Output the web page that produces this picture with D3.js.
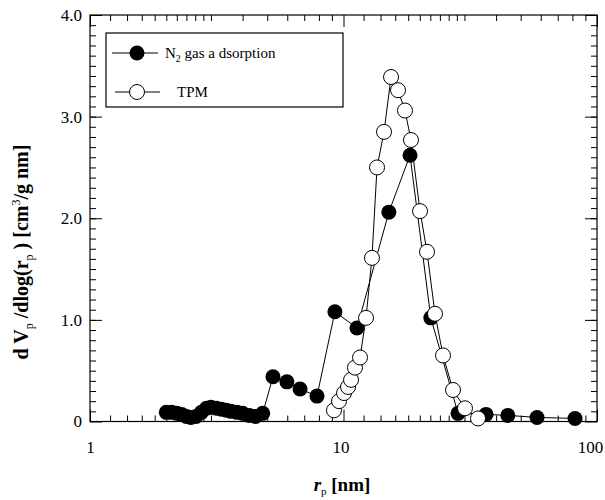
<!DOCTYPE html>
<html>
<head>
<meta charset="utf-8">
<script src="https://cdn.jsdelivr.net/npm/d3@7"></script>
<style>
body { margin: 0; background: #fff; }
text { font-family: "Liberation Serif", "Times New Roman", serif; }
</style>
</head>
<body>
<svg id="chart" width="605" height="500"></svg>
<script>
// tick values / labels
var xMajor = [1, 10, 100];
var xMajorLabels = ["1", "10", "100"];
var xMinor = [1.2, 1.4, 1.6, 1.8, 2, 2.2, 2.4, 2.6, 2.8, 3, 4, 5, 6, 7, 8, 9,
              12, 14, 16, 18, 20, 22, 24, 26, 28, 30, 40, 50, 60, 70, 80, 90];
var yMajor = [0, 1, 2, 3, 4];
var yMajorLabels = ["0", "1.0", "2.0", "3.0", "4.0"];
var yMinor = d3.range(1, 40).map(function(i) { return i / 10; });

// N2 gas adsorption (filled)
var n2Radius = [2.0, 2.1, 2.2, 2.3, 2.4, 2.5, 2.62, 2.75, 2.88, 3.0, 3.15, 3.3, 3.45, 3.6, 3.8, 4.0, 4.25, 4.5, 4.8,
                5.27, 5.98, 6.74, 7.86, 9.25, 11.3, 15.1, 18.3, 22.1, 28.3, 36.5, 44.5, 58.0, 81.9];
var n2Value  = [0.09, 0.09, 0.08, 0.07, 0.05, 0.04, 0.05, 0.09, 0.13, 0.14, 0.13, 0.12, 0.11, 0.10, 0.09, 0.08, 0.06, 0.05, 0.08,
                0.44, 0.39, 0.32, 0.25, 1.08, 0.92, 2.06, 2.62, 1.02, 0.08, 0.07, 0.06, 0.04, 0.03];

// TPM (open)
var tpmRadius = [9.17, 9.60, 10.05, 10.42, 10.71, 11.10, 11.62, 12.27, 12.95, 13.56, 14.45, 15.40, 16.41, 17.48, 18.46,
                 20.04, 21.35, 22.96, 24.69, 27.04, 30.15, 33.93];
var tpmValue  = [0.11, 0.20, 0.28, 0.34, 0.41, 0.53, 0.63, 1.02, 1.61, 2.50, 2.85, 3.39, 3.26, 3.06, 2.77,
                 2.07, 1.67, 1.06, 0.65, 0.31, 0.13, 0.03];

var seriesNames = ["gas a dsorption", "TPM"];

var svg = d3.select("#chart"),
    mLeft = 90, mRight = 597, mTop = 15, mBottom = 421.5;

var x = d3.scaleLog().domain([1, 100]).range([mLeft, mRight]);
var y = d3.scaleLinear().domain([0, 4]).range([mBottom, mTop]);

function cleanAxis(g) {
  g.select(".domain").remove();
  g.selectAll("line").attr("stroke", "#000");
  g.selectAll("text").attr("fill", "#000").attr("font-size", 17)
    .style("font-family", "'Liberation Serif', 'Times New Roman', serif");
}

// bottom
svg.append("g").attr("transform", "translate(0," + mBottom + ")")
  .call(d3.axisBottom(x).tickValues(xMinor).tickSize(-6).tickFormat(""))
  .call(cleanAxis);
var xAxisG = svg.append("g").attr("transform", "translate(0," + mBottom + ")")
  .call(d3.axisBottom(x).tickValues(xMajor).tickSize(-12).tickPadding(19)
    .tickFormat(function(d, i) { return xMajorLabels[i]; }))
  .call(cleanAxis);
xAxisG.selectAll("text").attr("dx", function(d, i) { return [0, -3, -7][i]; });
// top
svg.append("g").attr("transform", "translate(0," + mTop + ")")
  .call(d3.axisTop(x).tickValues(xMinor).tickSize(-6).tickFormat(""))
  .call(cleanAxis);
svg.append("g").attr("transform", "translate(0," + mTop + ")")
  .call(d3.axisTop(x).tickValues(xMajor).tickSize(-12).tickFormat(""))
  .call(cleanAxis);
// left
svg.append("g").attr("transform", "translate(" + mLeft + ",0)")
  .call(d3.axisLeft(y).tickValues(yMinor).tickSize(-6).tickFormat(""))
  .call(cleanAxis);
svg.append("g").attr("transform", "translate(" + mLeft + ",0)")
  .call(d3.axisLeft(y).tickValues(yMajor).tickSize(-12).tickPadding(8)
    .tickFormat(function(d, i) { return yMajorLabels[i]; }))
  .call(cleanAxis);
// right
svg.append("g").attr("transform", "translate(" + mRight + ",0)")
  .call(d3.axisRight(y).tickValues(yMinor).tickSize(-6).tickFormat(""))
  .call(cleanAxis);
svg.append("g").attr("transform", "translate(" + mRight + ",0)")
  .call(d3.axisRight(y).tickValues(yMajor).tickSize(-12).tickFormat(""))
  .call(cleanAxis);

svg.append("rect")
  .attr("x", mLeft).attr("y", mTop)
  .attr("width", mRight - mLeft).attr("height", mBottom - mTop)
  .attr("fill", "none").attr("stroke", "#000").attr("stroke-width", 1.2);

var line = d3.line()
  .x(function(d) { return x(d[0]); })
  .y(function(d) { return y(d[1]); });

var n2 = n2Radius.map(function(r, i) { return [r, n2Value[i]]; });
var tpm = tpmRadius.map(function(r, i) { return [r, tpmValue[i]]; });

svg.append("path").datum(n2).attr("d", line)
  .attr("fill", "none").attr("stroke", "#000").attr("stroke-width", 1);
svg.append("g").selectAll("circle").data(n2).enter().append("circle")
  .attr("cx", function(d) { return x(d[0]); })
  .attr("cy", function(d) { return y(d[1]); })
  .attr("r", 7.5).attr("fill", "#000");

svg.append("path").datum(tpm).attr("d", line)
  .attr("fill", "none").attr("stroke", "#000").attr("stroke-width", 1);
svg.append("g").selectAll("circle").data(tpm).enter().append("circle")
  .attr("cx", function(d) { return x(d[0]); })
  .attr("cy", function(d) { return y(d[1]); })
  .attr("r", 7.5).attr("fill", "#fff").attr("stroke", "#000").attr("stroke-width", 1);

// legend
var legend = svg.append("g");
legend.append("rect")
  .attr("x", 106).attr("y", 33).attr("width", 237).attr("height", 74)
  .attr("fill", "#fff").attr("stroke", "#000").attr("stroke-width", 1.2);
legend.append("line").attr("x1", 112).attr("x2", 158).attr("y1", 53).attr("y2", 53).attr("stroke", "#000");
legend.append("circle").attr("cx", 137).attr("cy", 53).attr("r", 7.5).attr("fill", "#000");
var t1 = legend.append("text").attr("x", 165).attr("y", 58).attr("font-size", 15);
t1.append("tspan").text("N");
t1.append("tspan").attr("font-size", 10).attr("dy", 4).text("2");
t1.append("tspan").attr("dy", -4).text(" " + seriesNames[0]);
legend.append("line").attr("x1", 115).attr("x2", 160).attr("y1", 92).attr("y2", 92).attr("stroke", "#000");
legend.append("circle").attr("cx", 137).attr("cy", 92).attr("r", 7.5)
  .attr("fill", "#fff").attr("stroke", "#000");
legend.append("text").attr("x", 177).attr("y", 97).attr("font-size", 15).text(seriesNames[1]);

// axis titles
var xt = svg.append("text").attr("x", 342).attr("y", 491)
  .attr("text-anchor", "middle").attr("font-size", 19).attr("font-weight", "bold");
xt.append("tspan").attr("font-style", "italic").text("r");
xt.append("tspan").attr("font-size", 11).attr("dy", 4).attr("font-weight", "normal").text("p");
xt.append("tspan").attr("dy", -4).text(" [nm]");

var yt = svg.append("text")
  .attr("transform", "translate(28,252) rotate(-90)")
  .attr("text-anchor", "middle").attr("font-size", 20).attr("font-weight", "bold");
yt.append("tspan").text("d ");
yt.append("tspan").text("V");
yt.append("tspan").attr("font-size", 12).attr("dy", 5).attr("font-weight", "normal").text("p");
yt.append("tspan").attr("dy", -5).text(" /dlog(r");
yt.append("tspan").attr("font-size", 12).attr("dy", 5).attr("font-weight", "normal").text("p");
yt.append("tspan").attr("dy", -5).text(" ) [cm");
yt.append("tspan").attr("font-size", 12).attr("dy", -8).attr("font-weight", "normal").text("3");
yt.append("tspan").attr("dy", 8).text("/g nm]");
</script>
</body>
</html>
